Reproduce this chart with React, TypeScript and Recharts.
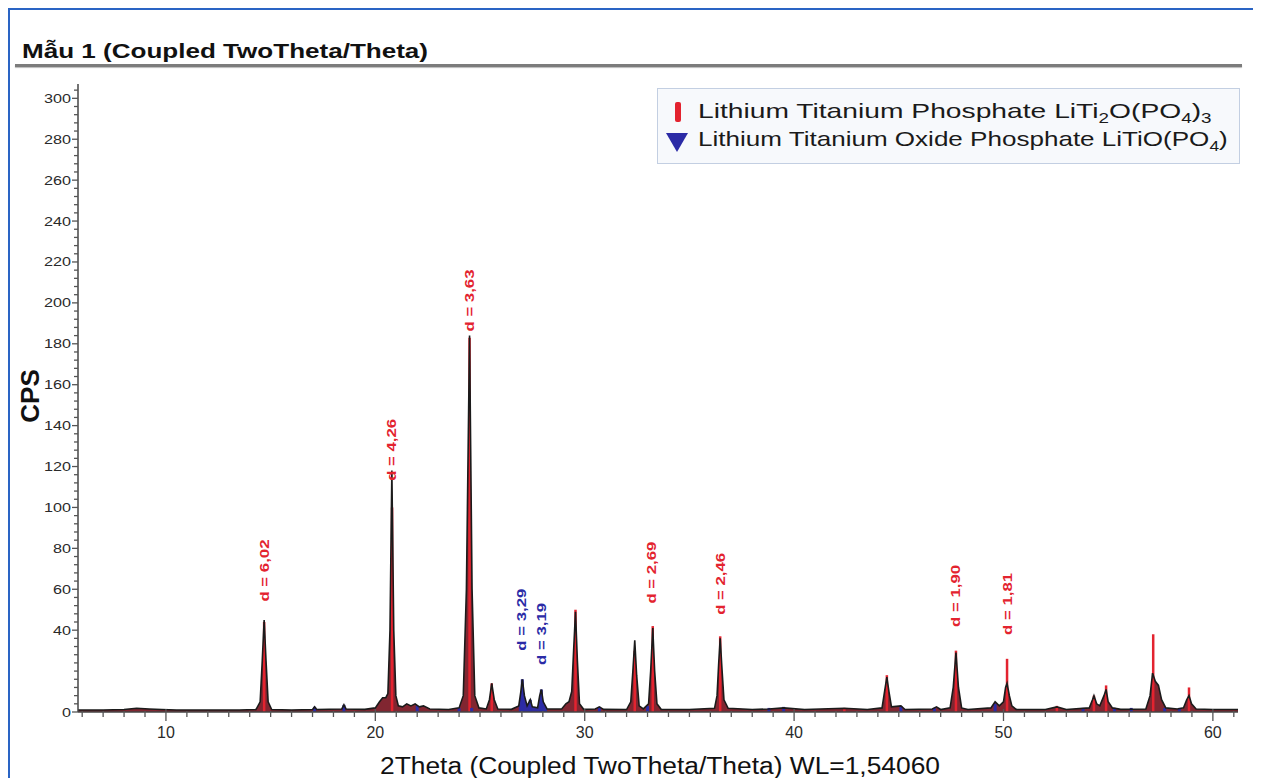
import React from "react";
import {
  ComposedChart,
  Area,
  Line,
  Scatter,
  XAxis,
  YAxis,
  ReferenceLine,
  Legend,
} from "recharts";

const FONT = '"Liberation Sans", Arial, Helvetica, sans-serif';
const RED = "#e3232f";
const BLUE = "#2b2ba6";

// measured pattern, 2theta (deg)
const twoTheta = [
  5.8, 7.0, 8.0, 8.6, 9.2, 9.8, 10.5, 12.0, 13.5,
  14.3, 14.5, 14.6, 14.69, 14.78, 14.88, 15.05,
  16.0, 17.0, 17.1, 17.2, 18.4, 18.5, 18.6, 19.5,
  20.0, 20.2, 20.35, 20.5, 20.6, 20.7, 20.79, 20.88, 20.98,
  21.1, 21.3, 21.5, 21.7, 21.9, 22.1, 22.3, 22.6, 23.5,
  24.0, 24.2, 24.35, 24.5, 24.62, 24.75, 24.95,
  25.3, 25.45, 25.56, 25.68, 25.85, 26.5,
  26.85, 26.95, 27.02, 27.12, 27.25, 27.4, 27.5, 27.75, 27.85, 27.93, 28.02, 28.2,
  28.9, 29.1, 29.25, 29.38, 29.47, 29.56, 29.65, 29.75, 29.95,
  30.5, 30.7, 30.9, 32.0, 32.2, 32.3, 32.39, 32.48, 32.6, 32.8,
  33.05, 33.15, 33.25, 33.34, 33.45, 33.65, 35.0,
  36.2, 36.32, 36.4, 36.47, 36.55, 36.65, 36.85,
  38.0, 38.8, 39.5, 40.5, 42.4, 43.5,
  44.2, 44.32, 44.43, 44.53, 44.65, 45.1, 45.3,
  46.6, 46.8, 47.0, 47.45, 47.6, 47.73, 47.85, 48.0, 48.3,
  49.4, 49.6, 49.8, 50.0, 50.1, 50.17, 50.28, 50.4, 50.6,
  52.0, 52.55, 53.0,
  54.1, 54.25, 54.32, 54.45, 54.6, 54.8, 54.9, 55.0, 55.2, 55.6,
  56.8, 57.0, 57.12, 57.25, 57.4, 57.55, 57.75,
  58.3, 58.6, 58.75, 58.86, 58.98, 59.2, 60.0, 61.2,
];

// measured pattern, counts per second
const cps = [
  1, 1, 1.2, 1.8, 1.5, 1.2, 1, 1, 1,
  1.2, 5, 25, 45, 25, 5, 1.2,
  1, 1.2, 2.5, 1.2, 1.5, 3.5, 1.5, 1.3,
  2, 5, 7, 7, 9, 40, 118, 40, 8,
  3, 2.5, 4, 3, 4, 2.5, 3, 1.5, 1.2,
  2, 8, 60, 184, 60, 8, 2,
  1.5, 6, 14, 6, 1.5, 1.3,
  3, 10, 16, 8, 3, 6, 2.5, 2, 8, 11, 5, 1.5,
  1.5, 4, 5, 10, 30, 49, 25, 4, 1.3,
  1.5, 2.5, 1.3, 1.2, 5, 20, 35, 18, 3, 1.5,
  4, 20, 41, 20, 4, 1.3, 1.2,
  1.8, 8, 24, 36, 22, 6, 1.8,
  1.2, 1.5, 2, 1.2, 1.8, 1.2,
  2, 10, 17, 10, 2.5, 3, 1.2,
  1.5, 2.5, 1.2, 2, 12, 29, 12, 2, 1.2,
  2, 5, 3, 5, 12, 14, 8, 3, 1.3,
  1.2, 2.5, 1.2,
  2, 6, 8, 4, 3, 8, 11, 5, 2, 1.3,
  1.5, 8, 19, 15, 13, 6, 2,
  1.5, 2, 6, 8, 4, 1.5, 1.2, 1.2,
];

// reference lines, LiTi2O(PO4)3
const phase1Pos = [14.69, 20.8, 24.5, 25.56, 29.56, 32.39, 33.25, 36.47, 42.4, 44.43, 47.73, 50.17, 52.55, 54.32, 54.9, 57.15, 58.86];
const phase1Int = [44, 100, 183, 14, 50, 30, 42, 37, 2, 18, 30, 26, 3, 8, 13, 38, 12];

// reference lines, LiTiO(PO4)
const phase2Pos = [17.1, 18.5, 22.0, 24.0, 24.6, 27.02, 27.4, 27.93, 30.7, 33.0, 38.8, 39.5, 45.1, 46.7, 49.6, 53.8, 55.3, 56.1, 57.7, 58.4];
const phase2Int = [2.5, 3.5, 3, 2, 2, 16, 6, 11, 2.5, 3, 2, 2.5, 3, 2, 4, 2, 2, 2, 2, 2];

// peak annotations
const labelText = ["d = 6,02", "d = 4,26", "d = 3,63", "d = 3,29", "d = 3,19", "d = 2,69", "d = 2,46", "d = 1,90", "d = 1,81"];
const labelX = [14.69, 20.79, 24.5, 27.0, 27.95, 33.2, 36.47, 47.73, 50.17];
const labelY = [54, 113, 186, 30, 23, 53, 47.5, 41.6, 37.7];
const labelPhase = [1, 1, 1, 2, 2, 1, 1, 1, 1];

const blueRange = [26.8, 28.25];

const yLabels = [0, 40, 60, 80, 100, 120, 140, 160, 180, 200, 220, 240, 260, 280, 300];
const yTicks = Array.from({ length: 77 }, (_, i) => i * 4);
const xLabels = [10, 20, 30, 40, 50, 60];
const xTicks = Array.from({ length: 56 }, (_, i) => 6 + i);

const pattern = twoTheta.map((x, i) => ({ x, cps: cps[i] }));
const bluePeaks = pattern.filter((p) => p.x >= blueRange[0] && p.x <= blueRange[1]);
const labels = labelText.map((text, i) => ({
  x: labelX[i],
  ypos: labelY[i],
  text,
  color: labelPhase[i] === 1 ? RED : BLUE,
}));

const YTick = (props: any) => {
  const { x, y, payload } = props;
  const v = payload.value;
  const major = yLabels.includes(v);
  return (
    <g>
      <line x1={x - (major ? 6 : 4)} x2={x} y1={y} y2={y} stroke="#555" strokeWidth={1.3} />
      {major && (
        <text
          x={x - 7}
          y={y}
          dy={4.5}
          textAnchor="end"
          fontSize={13}
          fill="#2a2a2a"
          fontFamily={FONT}
          textLength={String(v).length * 9}
          lengthAdjust="spacingAndGlyphs"
        >
          {v}
        </text>
      )}
    </g>
  );
};

const XTick = (props: any) => {
  const { x, y, payload } = props;
  const major = xLabels.includes(payload.value);
  return (
    <g>
      <line x1={x} x2={x} y1={major ? y - 3 : y - 1} y2={major ? y + 9 : y + 5} stroke="#555" strokeWidth={1.3} />
      {major && (
        <text x={x} y={y + 26} textAnchor="middle" fontSize={16} fill="#2a2a2a" fontFamily={FONT}>
          {payload.value}
        </text>
      )}
    </g>
  );
};

const DLabel = (props: any) => {
  const { cx, cy, payload } = props;
  if (cx == null || cy == null) return null;
  return (
    <text
      x={cx}
      y={cy}
      transform={`rotate(-90 ${cx} ${cy})`}
      textAnchor="start"
      dominantBaseline="central"
      fontSize={13}
      fontWeight="bold"
      fontFamily={FONT}
      fill={payload.color}
      textLength={62}
      lengthAdjust="spacingAndGlyphs"
    >
      {payload.text}
    </text>
  );
};

const XTitle = (props: any) => {
  const vb = props.viewBox;
  return (
    <text
      x={vb.x + vb.width / 2 + 2}
      y={vb.y + 62}
      textAnchor="middle"
      fontSize={23}
      fill="#111"
      fontFamily={FONT}
      textLength={560}
      lengthAdjust="spacingAndGlyphs"
    >
      2Theta (Coupled TwoTheta/Theta) WL=1,54060
    </text>
  );
};

const YTitle = (props: any) => {
  const vb = props.viewBox;
  const cx = vb.x + 12;
  const cy = vb.y + vb.height / 2 - 2;
  return (
    <text
      x={cx}
      y={cy}
      transform={`rotate(-90 ${cx} ${cy})`}
      textAnchor="middle"
      dominantBaseline="central"
      fontSize={26}
      fontWeight="bold"
      fill="#111"
      fontFamily={FONT}
    >
      CPS
    </text>
  );
};

const LegendBox = () => (
  <div
    style={{
      position: "relative",
      width: 583,
      height: 76,
      border: "1px solid #c3cfe2",
      background: "#f7f9fc",
      boxSizing: "border-box",
      fontFamily: FONT,
      fontSize: 21,
      lineHeight: "21px",
      color: "#1a1a1a",
    }}
  >
    <div style={{ position: "absolute", left: 17, top: 13, width: 6, height: 20, background: RED, borderRadius: 2 }} />
    <svg style={{ position: "absolute", left: 8, top: 44 }} width={22} height={20}>
      <polygon points="0,0 22,0 11,19" fill={BLUE} />
    </svg>
    <div style={{ position: "absolute", left: 40, top: 11, whiteSpace: "nowrap", transform: "scaleX(1.344)", transformOrigin: "left" }}>
      Lithium Titanium Phosphate LiTi<sub style={{ fontSize: 14 }}>2</sub>O(PO<sub style={{ fontSize: 14 }}>4</sub>)
      <sub style={{ fontSize: 14 }}>3</sub>
    </div>
    <div style={{ position: "absolute", left: 40, top: 39, whiteSpace: "nowrap", transform: "scaleX(1.24)", transformOrigin: "left" }}>
      Lithium Titanium Oxide Phosphate LiTiO(PO<sub style={{ fontSize: 14 }}>4</sub>)
    </div>
  </div>
);

export default function App() {
  return (
    <div style={{ position: "relative", width: 1245, height: 770, background: "#fff", overflow: "hidden", fontFamily: FONT }}>
      <div style={{ position: "absolute", left: 0, top: 0, width: 1245, height: 2, background: "#2a64c4" }} />
      <div style={{ position: "absolute", left: 0, top: 0, width: 2, height: 770, background: "#2a64c4" }} />
      <div
        style={{
          position: "absolute",
          left: 14,
          top: 32,
          fontSize: 21,
          lineHeight: "21px",
          fontWeight: "bold",
          color: "#111",
          whiteSpace: "nowrap",
          transform: "scaleX(1.24)",
          transformOrigin: "left",
        }}
      >
        Mẫu 1 (Coupled TwoTheta/Theta)
      </div>
      <div style={{ position: "absolute", left: 7, top: 56, width: 1227, height: 3, background: "#7c7c7c", boxShadow: "0 1px 1px #bbb" }} />
      <div style={{ position: "absolute", left: 0, top: 0 }}>
        <ComposedChart width={1245} height={770} data={pattern} margin={{ top: 76, right: 15, bottom: 0, left: 10 }}>
          <XAxis
            type="number"
            dataKey="x"
            domain={[5.8, 61.2]}
            ticks={xTicks}
            interval={0}
            tick={<XTick />}
            tickLine={false}
            tickSize={0}
            tickMargin={0}
            height={66}
            stroke="#444"
            strokeWidth={1.5}
            allowDataOverflow
            label={<XTitle />}
          />
          <YAxis
            type="number"
            domain={[0, 307]}
            ticks={yTicks}
            interval={0}
            tick={<YTick />}
            tickLine={false}
            tickSize={0}
            tickMargin={0}
            width={60}
            stroke="#444"
            strokeWidth={1.5}
            allowDataOverflow
            label={<YTitle />}
          />
          <Legend
            layout="vertical"
            verticalAlign="middle"
            align="center"
            content={<LegendBox />}
            wrapperStyle={{ left: 649, top: 80, width: 583, height: 76 }}
          />
          <Area type="linear" dataKey="cps" stroke="none" fill="#761320" fillOpacity={0.92} isAnimationActive={false} legendType="none" />
          <Area type="linear" data={bluePeaks} dataKey="cps" stroke="none" fill={BLUE} fillOpacity={0.95} isAnimationActive={false} legendType="none" />
          {phase1Pos.map((p, i) => (
            <ReferenceLine
              key={`r${i}`}
              segment={[{ x: p, y: 0 }, { x: p, y: phase1Int[i] }]}
              stroke={RED}
              strokeWidth={2.5}
              ifOverflow="visible"
            />
          ))}
          {phase2Pos.map((p, i) => (
            <ReferenceLine
              key={`b${i}`}
              segment={[{ x: p, y: 0 }, { x: p, y: phase2Int[i] }]}
              stroke={BLUE}
              strokeWidth={3}
              ifOverflow="visible"
            />
          ))}
          <Line type="linear" dataKey="cps" stroke="#1b1b1b" strokeWidth={1.6} dot={false} isAnimationActive={false} legendType="none" />
          <Scatter data={labels} dataKey="ypos" shape={<DLabel />} isAnimationActive={false} legendType="none" />
        </ComposedChart>
      </div>
    </div>
  );
}
